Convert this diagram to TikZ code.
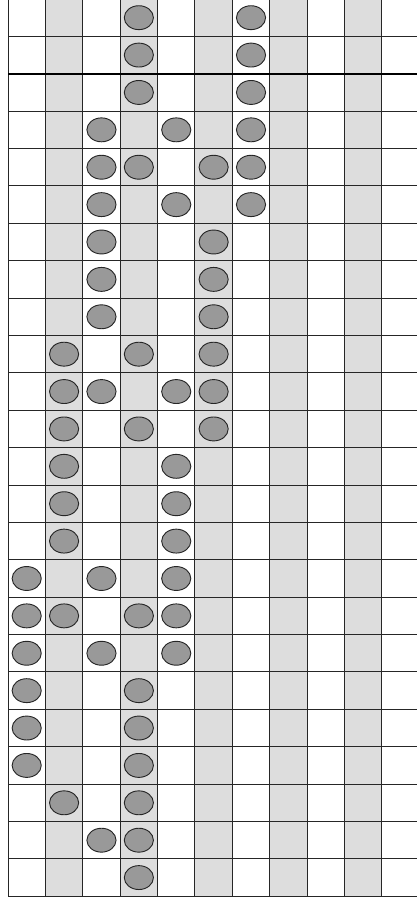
\documentclass[tikz,border=0pt]{standalone}
\usepackage{tikz}

\begin{document}
\begin{tikzpicture}[x=1cm,y=1cm]
  \useasboundingbox (-0.214,-24.18) rectangle (10.936,-0.027);
  % shaded columns
  \foreach \c in {1,3,5,7,9}
    \fill[gray!27] (\c,-24) rectangle (\c+1,0);
  \draw[step=1cm,black!85,line width=0.7pt] (0,-24) grid (11,0);
  \draw[line width=1.2pt] (0,-2)--(11,-2);
  % beads, row by row
  \foreach \r/\cols in {1/{4,7},2/{4,7},3/{4,7},4/{3,5,7},5/{3,4,6,7},6/{3,5,7},
      7/{3,6},8/{3,6},9/{3,6},10/{2,4,6},11/{2,3,5,6},12/{2,4,6},
      13/{2,5},14/{2,5},15/{2,5},16/{1,3,5},17/{1,2,4,5},18/{1,3,5},
      19/{1,4},20/{1,4},21/{1,4},22/{2,4},23/{3,4},24/{4}}
    \foreach \c in \cols
      \filldraw[fill=gray!80,draw=black!85,line width=0.7pt]
        (\c-0.5,-\r+0.5) ellipse[x radius=0.39,y radius=0.32];
\end{tikzpicture}
\end{document}
